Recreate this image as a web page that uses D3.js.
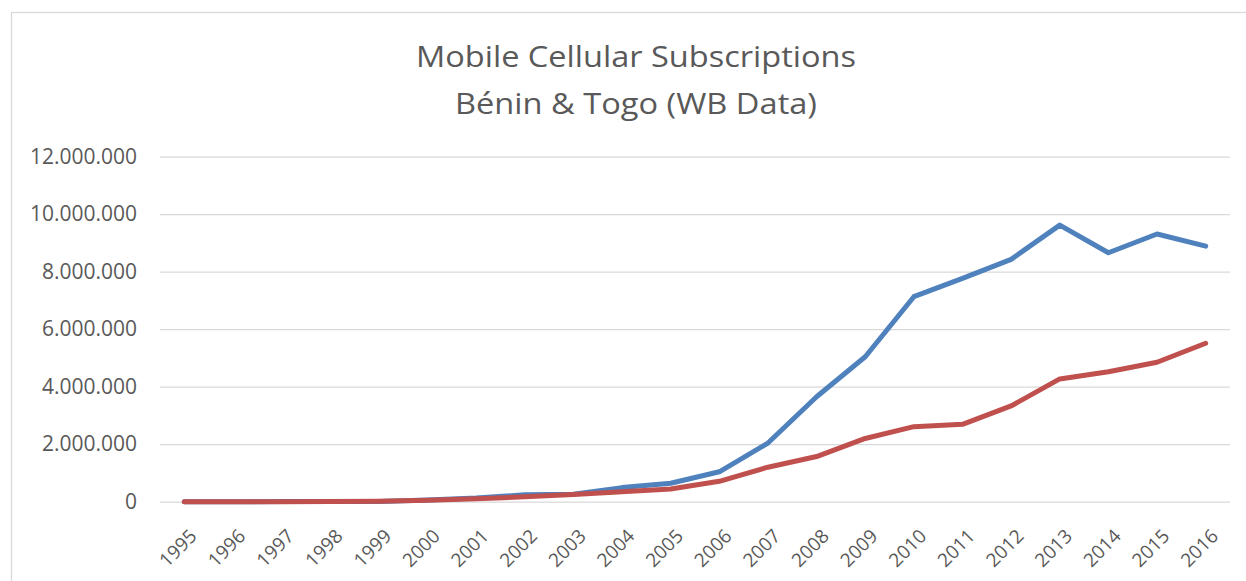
<!DOCTYPE html>
<html>
<head>
<meta charset="utf-8">
<script src="https://cdn.jsdelivr.net/npm/d3@7"></script>
<style>
  html, body { margin: 0; padding: 0; background: #fff; }
  svg { display: block; }
  text { font-family: "Open Sans", "DejaVu Sans", sans-serif; fill: #595959; }
</style>
</head>
<body>
<svg id="chart" width="1246" height="581"></svg>
<script>
// Mobile cellular subscriptions, World Bank data
const years = ["1995","1996","1997","1998","1999","2000","2001","2002","2003","2004","2005",
               "2006","2007","2008","2009","2010","2011","2012","2013","2014","2015","2016"];
const benin = [1000, 1000, 4000, 6000, 8000, 55000, 125000, 240000, 260000, 490000, 640000,
               1040000, 2040000, 3650000, 5040000, 7130000, 7770000, 8430000, 9620000, 8660000, 9310000, 8890000];
const togo  = [0, 0, 2000, 7000, 17000, 50000, 100000, 170000, 250000, 350000, 440000,
               710000, 1200000, 1570000, 2200000, 2610000, 2690000, 3330000, 4270000, 4520000, 4850000, 5510000];
const yTicks = [0, 2000000, 4000000, 6000000, 8000000, 10000000, 12000000];
const titleLines = ["Mobile Cellular Subscriptions", "Bénin & Togo (WB Data)"];

const series = [
  { name: "Bénin", values: benin, color: "#4F81BD" },
  { name: "Togo",  values: togo,  color: "#C0504D" }
];

const svg = d3.select("#chart");

// outer chart frame
svg.append("rect")
  .attr("x", 11.5).attr("y", 12.5)
  .attr("width", 1300).attr("height", 700)
  .attr("fill", "none").attr("stroke", "#D9D9D9").attr("stroke-width", 1.3);

const plot = { left: 160, right: 1230, top: 156.7, bottom: 501.7 };

const x = d3.scaleBand().domain(years).range([plot.left, plot.right]).padding(0);
const cx = d => x(d) + x.bandwidth() / 2;
const y = d3.scaleLinear().domain([0, 12000000]).range([plot.bottom, plot.top]);

const locale = d3.formatLocale({ decimal: ",", thousands: ".", grouping: [3], currency: ["", ""] });
const fmt = locale.format(",d");

// title
svg.selectAll("text.title")
  .data(titleLines)
  .join("text")
  .attr("class", "title")
  .attr("x", 636)
  .attr("y", (d, i) => 67 + i * 47)
  .attr("text-anchor", "middle")
  .attr("font-size", 29)
  .attr("textLength", (d, i) => i === 0 ? 440 : 362)
  .attr("lengthAdjust", "spacingAndGlyphs")
  .text(d => d);

// horizontal gridlines + y labels
const yAxis = d3.axisLeft(y).tickValues(yTicks).tickFormat(fmt)
  .tickSize(-(plot.right - plot.left)).tickPadding(23);
const gy = svg.append("g").attr("transform", `translate(${plot.left},0)`).call(yAxis);
gy.select(".domain").remove();
gy.selectAll(".tick line").attr("stroke", "#D9D9D9").attr("stroke-width", 1.3);
gy.selectAll(".tick text")
  .attr("font-size", 21)
  .attr("fill", "#595959")
  .style("font-family", "'Open Sans', sans-serif");

// x labels, rotated
const xAxis = d3.axisBottom(x).tickSize(0).tickPadding(0);
const gx = svg.append("g").attr("transform", `translate(0,${plot.bottom})`).call(xAxis);
gx.select(".domain").remove();
gx.selectAll(".tick text")
  .attr("font-size", 19)
  .attr("fill", "#595959")
  .style("font-family", "'Open Sans', sans-serif")
  .attr("text-anchor", "end")
  .attr("y", 0)
  .attr("dy", "0.35em")
  .attr("transform", "translate(9,31) rotate(-45)");

// series lines
const line = d3.line()
  .x((d, i) => cx(years[i]))
  .y(d => y(d));

svg.append("g").selectAll("path")
  .data(series)
  .join("path")
  .attr("d", s => line(s.values))
  .attr("fill", "none")
  .attr("stroke", s => s.color)
  .attr("stroke-width", 5)
  .attr("stroke-linecap", "round")
  .attr("stroke-linejoin", "round");
</script>
</body>
</html>
